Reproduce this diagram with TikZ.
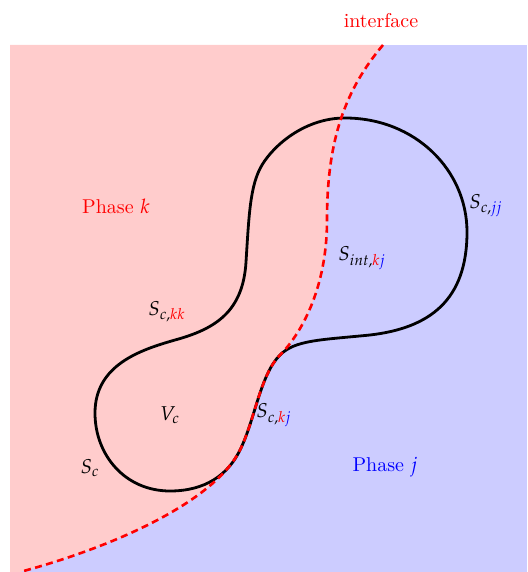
\documentclass[tikz,border=0pt]{standalone}
\usepackage{mathpazo}
\usepackage{xcolor}
\definecolor{pinkfill}{RGB}{255,204,204}
\definecolor{bluefill}{RGB}{204,204,255}
\tikzset{
  cell/.style={line width=1.4pt, black},
  iface/.style={red, line width=1.3pt, dash pattern=on 3.5pt off 2.2pt},
  lbl/.style={inner sep=0pt, font=\normalsize}
}
\begin{document}
\begin{tikzpicture}[x=0.5pt,y=-0.5pt]
\useasboundingbox (0,0) rectangle (527,572);
% interface end points
\coordinate (itop) at (383,45);
\coordinate (ibot) at (20,572);
% background phases
\fill[bluefill] (10,45) rectangle (527,572);
\fill[pinkfill] (10,45) -- (itop)
  .. controls (345,90) and (327,140) .. (327,220)
  .. controls (327,290) and (300,335) .. (280,355)
  .. controls (260,375) and (255,420) .. (240,450)
  .. controls (215,500) and (120,545) .. (ibot)
  -- (10,572) -- cycle;
% control volume
\draw[cell] (345,118)
  .. controls (415,118) and (467,170) .. (467,232)
  .. controls (467,300) and (430,328) .. (370,335)
  .. controls (320,340) and (295,340) .. (280,355)
  .. controls (260,375) and (255,420) .. (240,450)
  .. controls (228,475) and (205,491) .. (170,491)
  .. controls (125,491) and (95,455) .. (95,413)
  .. controls (95,365) and (140,350) .. (175,340)
  .. controls (215,329) and (243,312) .. (246,262)
  .. controls (249,215) and (250,185) .. (262,165)
  .. controls (274,145) and (305,118) .. (345,118) -- cycle;
% interface
\draw[iface] (itop)
  .. controls (345,90) and (327,140) .. (327,220)
  .. controls (327,290) and (300,335) .. (280,355)
  .. controls (260,375) and (255,420) .. (240,450)
  .. controls (215,500) and (120,545) .. (ibot);
% labels
\node[lbl, text=red] (ifl) at (381,21) {interface};
\node[lbl, text=red] (phk) at (116,206) {Phase $k$};
\node[lbl, text=blue] (phj) at (385,467) {Phase $j$};
\node[lbl, anchor=west] (scjj) at (469,206) {$S_{c,\textcolor{blue}{jj}}$};
\node[lbl, anchor=west] (sint) at (338,258) {$S_{int,\textcolor{red}{k}\textcolor{blue}{j}}$};
\node[lbl, anchor=west] (sckk) at (148,312) {$S_{c,\textcolor{red}{kk}}$};
\node[lbl, anchor=west] (sckj) at (256,415) {$S_{c,\textcolor{red}{k}\textcolor{blue}{j}}$};
\node[lbl] (vc) at (170,415) {$V_c$};
\node[lbl] (sc) at (90,468) {$S_c$};
\end{tikzpicture}
\end{document}
